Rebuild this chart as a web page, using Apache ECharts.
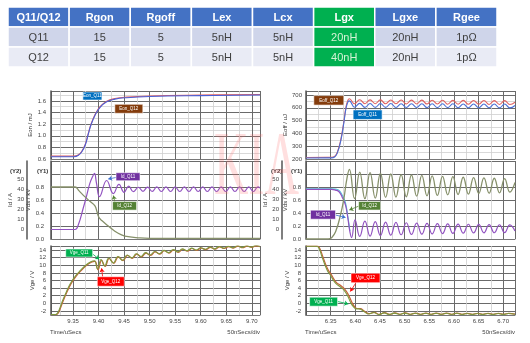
<!DOCTYPE html>
<html><head><meta charset="utf-8">
<script src="https://cdn.jsdelivr.net/npm/echarts@6/dist/echarts.min.js"></script>
<style>html,body{margin:0;padding:0;background:#fff}#c{width:530px;height:343px}</style>
</head><body><div id="c"></div>
<script>
// ---------- table ----------
const tableHeader = ['Q11/Q12','Rgon','Rgoff','Lex','Lcx','Lgx','Lgxe','Rgee'];
const tableRowQ11 = ['Q11','15','5','5nH','5nH','20nH','20nH','1pΩ'];
const tableRowQ12 = ['Q12','15','5','5nH','5nH','40nH','20nH','1pΩ'];

// ---------- turn-on (left) ----------
const eonQ11 = [[9.307,0.64],[9.352,0.64],[9.360,0.66],[9.367,0.72],[9.374,0.84],[9.380,1.03],[9.385,1.18],[9.393,1.35],[9.403,1.49],[9.416,1.585],[9.432,1.63],[9.455,1.655],[9.50,1.675],[9.60,1.69],[9.716,1.70]];
const eonQ12 = [[9.307,0.65],[9.352,0.65],[9.360,0.67],[9.367,0.73],[9.374,0.85],[9.380,1.04],[9.385,1.19],[9.393,1.36],[9.403,1.50],[9.416,1.595],[9.432,1.64],[9.455,1.665],[9.50,1.685],[9.60,1.70],[9.716,1.71]];
const vdsOn = [[9.307,0.80],[9.354,0.80],[9.362,0.74],[9.372,0.66],[9.383,0.58],[9.393,0.51],[9.397,0.42],[9.401,0.33],[9.407,0.28],[9.419,0.20],[9.432,0.12],[9.445,0.065],[9.458,0.035],[9.478,0.018],[9.50,0.01],[9.716,0.01]];
const idOn = [[9.307,0],[9.354,0],[9.360,4],[9.370,21],[9.377,34],[9.383,45.7],[9.3885,52.5],[9.392,55.5],[9.396,46],[9.402,32.5],[9.416,48.5],[9.429,35.5],[9.440,44.7],[9.450,36.8],[9.459,43],[9.468,37.4],[9.478,41.8],[9.487,37.8],[9.496,42.0],[9.505,37.7],[9.514,42.1],[9.523,37.6],[9.532,42.1],[9.541,37.6],[9.550,42.1],[9.559,37.6],[9.568,42.1],[9.577,37.6],[9.586,42.1],[9.595,37.6],[9.604,42.1],[9.613,37.6],[9.622,42.1],[9.631,37.6],[9.640,42.1],[9.649,37.6],[9.658,42.1],[9.667,37.6],[9.676,42.1],[9.685,37.6],[9.694,42.1],[9.703,37.6],[9.712,42.1],[9.716,41]];
const vgeOnQ11 = [[9.307,-2.9],[9.316,-2.9],[9.320,-2.5],[9.325,-1.0],[9.330,0.8],[9.337,3.0],[9.345,5.2],[9.355,7.2],[9.365,8.7],[9.375,10.0],[9.385,10.9],[9.392,11.2],[9.398,9.0],[9.405,11.5],[9.412,9.8],[9.420,11.9],[9.429,10.6],[9.438,12.3],[9.447,11.3],[9.456,12.7],[9.465,11.9],[9.474,13.0],[9.483,12.3],[9.492,13.3],[9.501,12.7],[9.510,13.6],[9.519,13.0],[9.528,13.9],[9.537,13.3],[9.546,14.1],[9.555,13.5],[9.564,14.3],[9.573,13.8],[9.582,14.5],[9.591,14.0],[9.600,14.6],[9.609,14.2],[9.618,14.8],[9.627,14.3],[9.636,14.9],[9.645,14.5],[9.654,15.0],[9.663,14.6],[9.672,15.1],[9.681,14.7],[9.690,15.1],[9.699,14.8],[9.708,15.2],[9.716,14.9]];
const vgeOnQ12 = [[9.307,-2.95],[9.317,-2.95],[9.321,-2.6],[9.326,-1.1],[9.331,0.7],[9.338,2.9],[9.346,5.1],[9.356,7.1],[9.366,8.6],[9.376,9.9],[9.386,10.8],[9.393,11.0],[9.399,8.8],[9.406,11.3],[9.413,9.7],[9.421,11.8],[9.430,10.5],[9.439,12.2],[9.448,11.2],[9.457,12.6],[9.466,11.8],[9.475,12.9],[9.484,12.2],[9.493,13.2],[9.502,12.6],[9.511,13.5],[9.520,12.9],[9.529,13.8],[9.538,13.2],[9.547,14.0],[9.556,13.4],[9.565,14.2],[9.574,13.7],[9.583,14.4],[9.592,13.9],[9.601,14.5],[9.610,14.1],[9.619,14.7],[9.628,14.2],[9.637,14.8],[9.646,14.4],[9.655,14.9],[9.664,14.5],[9.673,15.0],[9.682,14.6],[9.691,15.0],[9.700,14.7],[9.709,15.1],[9.716,14.9]];

// ---------- turn-off (right) ----------
const eoffQ11 = [[6.300,208],[6.352,209],[6.358,216],[6.363,242],[6.370,332],[6.377,488],[6.381,592],[6.385,645],[6.388,654],[6.3985,604],[6.409,634],[6.4195,603],[6.430,633],[6.4405,603],[6.451,633],[6.4615,603],[6.472,633],[6.4825,602],[6.493,632],[6.5035,602],[6.514,632],[6.5245,602],[6.535,632],[6.5455,601],[6.556,631],[6.5665,601],[6.577,631],[6.5875,601],[6.598,631],[6.6085,600],[6.619,630],[6.6295,600],[6.640,630],[6.6505,600],[6.661,630],[6.6715,600],[6.682,629],[6.6925,599],[6.703,629],[6.7135,599],[6.724,618]];
const eoffQ12 = [[6.300,212],[6.352,213],[6.358,220],[6.363,247],[6.370,340],[6.377,498],[6.381,604],[6.385,660],[6.388,670],[6.3985,632],[6.409,663],[6.4195,632],[6.430,662],[6.4405,632],[6.451,662],[6.4615,631],[6.472,661],[6.4825,631],[6.493,661],[6.5035,630],[6.514,660],[6.5245,630],[6.535,660],[6.5455,629],[6.556,659],[6.5665,629],[6.577,659],[6.5875,628],[6.598,658],[6.6085,628],[6.619,658],[6.6295,627],[6.640,657],[6.6505,627],[6.661,657],[6.6715,626],[6.682,656],[6.6925,626],[6.703,656],[6.7135,625],[6.724,643]];
const vdsOff = [[6.300,0],[6.345,0],[6.352,0.02],[6.360,0.11],[6.370,0.37],[6.377,0.63],[6.383,0.93],[6.388,1.07],[6.3985,0.62],[6.409,1.03],[6.4195,0.62],[6.430,1.02],[6.4405,0.63],[6.451,1.01],[6.4615,0.64],[6.472,1.00],[6.4825,0.645],[6.493,0.99],[6.5035,0.65],[6.514,0.985],[6.5245,0.66],[6.535,0.98],[6.5455,0.665],[6.556,0.97],[6.5665,0.67],[6.577,0.965],[6.5875,0.68],[6.598,0.96],[6.6085,0.685],[6.619,0.95],[6.6295,0.69],[6.640,0.945],[6.6505,0.70],[6.661,0.94],[6.6715,0.705],[6.682,0.935],[6.6925,0.71],[6.703,0.93],[6.7135,0.72],[6.724,0.87]];
const idOffQ11 = [[6.300,39.8],[6.352,39.8],[6.360,39.0],[6.367,37.4],[6.373,32.5],[6.380,24.3],[6.385,11],[6.389,-2],[6.3925,-8],[6.3995,9.5],[6.409,-6.8],[6.4195,8.2],[6.430,-6.5],[6.4405,7.8],[6.451,-6.0],[6.4615,7.4],[6.472,-5.6],[6.4825,7.0],[6.493,-5.2],[6.5035,6.7],[6.514,-4.9],[6.5245,6.4],[6.535,-4.6],[6.5455,6.1],[6.556,-4.3],[6.5665,5.8],[6.577,-4.0],[6.5875,5.6],[6.598,-3.8],[6.6085,5.4],[6.619,-3.6],[6.6295,5.2],[6.640,-3.4],[6.6505,5.0],[6.661,-3.3],[6.6715,4.8],[6.682,-3.2],[6.6925,4.7],[6.703,-3.1],[6.7135,4.6],[6.724,-1.5]];
const idOffQ12 = [[6.300,40.4],[6.352,40.4],[6.360,40.0],[6.367,38.8],[6.373,34.5],[6.380,26.5],[6.385,12.5],[6.389,-1.5]];
const vgeOffQ11 = [[6.300,15.0],[6.322,15.0],[6.327,14.3],[6.333,12.0],[6.343,8.7],[6.350,7.3],[6.360,5.3],[6.370,4.3],[6.377,3.5],[6.384,2.1],[6.3915,0.0],[6.397,-1.0],[6.401,-1.4],[6.410,-1.5],[6.417,-2.1],[6.427,-2.8],[6.4375,-2.4],[6.448,-2.95],[6.4585,-2.5],[6.469,-2.95],[6.4795,-2.55],[6.490,-2.9],[6.5005,-2.55],[6.511,-2.9],[6.5215,-2.6],[6.532,-2.9],[6.5425,-2.6],[6.553,-2.9],[6.5635,-2.6],[6.574,-2.9],[6.5845,-2.6],[6.595,-2.9],[6.6055,-2.6],[6.616,-2.9],[6.6265,-2.65],[6.637,-2.9],[6.6475,-2.65],[6.658,-2.9],[6.6685,-2.65],[6.679,-2.9],[6.6895,-2.65],[6.700,-2.9],[6.7105,-2.65],[6.724,-2.85]];
const vgeOffQ12 = [[6.300,15.05],[6.323,15.05],[6.328,14.4],[6.334,12.3],[6.344,9.0],[6.351,7.6],[6.361,5.6],[6.371,4.6],[6.378,3.8],[6.385,2.5],[6.393,0.3],[6.398,-0.8],[6.402,-1.3],[6.411,-1.4],[6.418,-2.0],[6.428,-2.7],[6.4385,-2.35],[6.449,-2.9],[6.4595,-2.45],[6.470,-2.9],[6.4805,-2.5],[6.491,-2.85],[6.5015,-2.5],[6.512,-2.85],[6.5225,-2.55],[6.533,-2.85],[6.5435,-2.55],[6.554,-2.85],[6.5645,-2.55],[6.575,-2.85],[6.5855,-2.55],[6.596,-2.85],[6.6065,-2.55],[6.617,-2.85],[6.6275,-2.6],[6.638,-2.85],[6.6485,-2.6],[6.659,-2.85],[6.6695,-2.6],[6.680,-2.85],[6.6905,-2.6],[6.701,-2.85],[6.7115,-2.6],[6.724,-2.8]];

// y-axis tick labels
const idTicks = [0,10,20,30,40,50];

// ---------- build ----------
const FONT = '"Liberation Sans", Arial, sans-serif';
const tableCells = [];
[tableHeader, tableRowQ11, tableRowQ12].forEach((row, r) => row.forEach((t, c) => tableCells.push({c, r, t})));

function timeAxis(g, min, max, show) {
  return {type:'value', gridIndex:g, min:min, max:max, splitNumber:8,
    axisLine:{show:true, onZero:false, lineStyle:{color:'#777', width:1}}, axisTick:{show:false},
    axisLabel:{show:show, fontSize:6, color:'#444', margin:3, fontFamily:FONT, showMinLabel:false, showMaxLabel:false, formatter:v=>v.toFixed(2)},
    splitLine:{show:true, lineStyle:{color:'#6a6a6a', width:1}},
    minorTick:{show:false, splitNumber:2}, minorSplitLine:{show:true, lineStyle:{color:'#cfcfcf', width:0.8}}};
}
function valAxis(g, o) {
  const a = {type:'value', gridIndex:g, nameLocation:'middle', nameRotate:90,
    nameTextStyle:{fontSize:6, color:'#333', fontFamily:FONT},
    axisLine:{show:true, lineStyle:{color:'#555', width:1.5}}, axisTick:{show:false},
    axisLabel:{fontSize:6, color:'#444', margin:5, fontFamily:FONT},
    splitLine:{show:true, lineStyle:{color:'#6a6a6a', width:1}}};
  return Object.assign(a, o, {axisLabel:Object.assign(a.axisLabel, o.axisLabel||{})});
}
function line(name, data, xi, yi, color, w, extra) {
  return Object.assign({type:'line', name:name, data:data, xAxisIndex:xi, yAxisIndex:yi, showSymbol:false, symbol:'none', smooth:0.45,
    lineStyle:{color:color, width:w}, itemStyle:{color:color}, silent:true, z:3}, extra||{});
}
function box(coord, text, color, w, h) {
  return {coord:coord, symbol:'rect', symbolSize:[w,h], itemStyle:{color:color, borderColor:'#fff', borderWidth:0.5},
    label:{show:true, position:'inside', formatter:text, color:'#fff', fontSize:4.5, fontFamily:FONT}};
}
function arrow(a, b, color) {
  return [{coord:a, lineStyle:{color:color, width:0.8, type:'solid'}}, {coord:b}];
}
const mpBase = {silent:true, animation:false};
const mlBase = {silent:true, animation:false, symbol:['none','arrow'], symbolSize:4, label:{show:false}};

const option = {
  animation:false,
  backgroundColor:'#fff',
  grid:[
    {left:8, top:7, width:489, height:60},
    {left:51, top:91, width:209, height:68},
    {left:51, top:161, width:209, height:78},
    {left:51, top:246, width:209, height:69},
    {left:306, top:91, width:209, height:68},
    {left:306, top:161, width:209, height:78},
    {left:306, top:246, width:209, height:69}
  ],
  xAxis:[
    {type:'category', gridIndex:0, data:tableHeader, show:false},
    timeAxis(1, 9.307, 9.716, false),
    timeAxis(2, 9.307, 9.716, false),
    timeAxis(3, 9.307, 9.716, true),
    timeAxis(4, 6.300, 6.724, false),
    timeAxis(5, 6.300, 6.724, false),
    timeAxis(6, 6.300, 6.724, true)
  ],
  yAxis:[
    {type:'category', gridIndex:0, data:['h','q11','q12'], inverse:true, show:false},
    valAxis(1, {min:0.6, max:1.77, interval:0.2, name:'Eon / mJ', nameGap:14,
      axisLabel:{showMaxLabel:false, formatter:v=>v.toFixed(1)},
      minorTick:{show:false, splitNumber:2}, minorSplitLine:{show:true, lineStyle:{color:'#cfcfcf', width:0.8}}}),
    valAxis(2, {min:0, max:1.2, interval:0.2, name:'Vds / kV', nameGap:15,
      axisLabel:{margin:7, formatter:v=>v>0.85?'':v.toFixed(1)}}),
    valAxis(2, {min:-9.4, max:67.8, name:'Id / A', nameGap:11, offset:24, position:'left',
      axisLabel:{margin:3, customValues:idTicks, formatter:v=>String(Math.round(v))},
      axisTick:{show:false, customValues:idTicks}, splitLine:{show:false}}),
    valAxis(3, {min:-3.05, max:15.05, splitNumber:9, name:'Vge / V', nameGap:13,
      axisLabel:{showMinLabel:false, showMaxLabel:false, formatter:v=>String(Math.round(v))}}),
    valAxis(4, {min:200, max:731, interval:100, name:'Eoff / uJ', nameGap:17,
      axisLabel:{margin:4, showMaxLabel:false},
      minorTick:{show:false, splitNumber:2}, minorSplitLine:{show:true, lineStyle:{color:'#cfcfcf', width:0.8}}}),
    valAxis(5, {min:0, max:1.2, interval:0.2, name:'Vds / kV', nameGap:15,
      axisLabel:{margin:5, formatter:v=>v>0.85?'':v.toFixed(1)}}),
    valAxis(5, {min:-9.4, max:67.8, name:'Id / A', nameGap:10, offset:24, position:'left',
      axisLabel:{margin:3, customValues:idTicks, formatter:v=>String(Math.round(v))},
      axisTick:{show:false, customValues:idTicks}, splitLine:{show:false}}),
    valAxis(6, {min:-3.05, max:15.05, splitNumber:9, name:'Vge / V', nameGap:13,
      axisLabel:{showMinLabel:false, showMaxLabel:false, formatter:v=>String(Math.round(v))}})
  ],
  series:[
    {type:'custom', xAxisIndex:0, yAxisIndex:0, silent:true,
      data:tableCells.map(d=>[d.c, d.r]),
      renderItem:function(params, api){
        const cell = tableCells[params.dataIndex];
        const p = api.coord([api.value(0), api.value(1)]);
        const s = api.size([1,1]);
        let fill = cell.r===0 ? '#4472C4' : (cell.r===1 ? '#CFD5EA' : '#E9EBF5');
        let tc = cell.r===0 ? '#ffffff' : '#404040';
        if (cell.c===5) { fill = '#00B050'; if (cell.r>0) tc = '#d4f2d4'; }
        return {type:'group', children:[
          {type:'rect', shape:{x:p[0]-s[0]/2, y:p[1]-s[1]/2, width:s[0], height:s[1]}, style:{fill:fill, stroke:'#ffffff', lineWidth:1.5}},
          {type:'text', style:{text:cell.t, x:p[0], y:p[1]+0.5, align:'center', verticalAlign:'middle', fill:tc,
            font:(cell.r===0?'bold ':'')+'11px '+FONT}}
        ]};
      }},
    // left turn-on
    line('Eon_Q12', eonQ12, 1, 1, '#e06060', 1.1),
    line('Eon_Q11', eonQ11, 1, 1, '#4a5fd6', 1.1, {
      markPoint:Object.assign({data:[box([9.388,1.684],'Eon_Q11','#0070C0',19,8), box([9.4593,1.464],'Eon_Q12','#843C0C',28,9)]}, mpBase)}),
    line('Id_Q11', idOn, 2, 3, '#9152c0', 1.2),
    line('Vds_Q12', vdsOn, 2, 2, '#86906a', 1.3, {
      markPoint:Object.assign({data:[box([9.4577,0.958],'Id_Q11','#7030A0',24,8), box([9.451,0.51],'Id_Q12','#548235',24,8.5)]}, mpBase),
      markLine:Object.assign({data:[arrow([9.434,0.946],[9.419,0.923],'#3a6fd0'), arrow([9.432,0.569],[9.429,0.669],'#548235')]}, mlBase)}),
    line('Vge_Q12', vgeOnQ12, 3, 4, '#c8603a', 1.2),
    line('Vge_Q11', vgeOnQ11, 3, 4, '#7d9a3e', 1.1, {
      markPoint:Object.assign({data:[box([9.3622,13.21],'Vge_Q11','#00B050',27,8), box([9.424,5.74],'Vge_Q12','#FF0000',27,9.5)]}, mpBase),
      markLine:Object.assign({data:[arrow([9.3885,12.95],[9.4015,11.56],'#00B050'), arrow([9.408,7.0],[9.406,9.2],'#FF0000')]}, mlBase)}),
    // right turn-off
    line('Eoff_Q12', eoffQ12, 4, 5, '#e06060', 1.1),
    line('Eoff_Q11', eoffQ11, 4, 5, '#4a6fd6', 1.1, {
      markPoint:Object.assign({data:[box([6.3463,658],'Eoff_Q12','#843C0C',30,9.5), box([6.425,546],'Eoff_Q11','#0070C0',29,9.5)]}, mpBase)}),
    line('Id_Q12c', idOffQ12, 5, 7, '#4cc4d8', 1.1),
    line('Id_Q11', idOffQ11, 5, 7, '#9152c0', 1.2),
    line('Vds_Q12', vdsOff, 5, 6, '#86906a', 1.3, {
      markPoint:Object.assign({data:[box([6.429,0.511],'Id_Q12','#548235',22,8.5), box([6.3345,0.374],'Id_Q11','#7030A0',25,9)]}, mpBase),
      markLine:Object.assign({data:[arrow([6.4077,0.508],[6.3879,0.446],'#548235'), arrow([6.3599,0.369],[6.3802,0.331],'#3a6fd0')]}, mlBase)}),
    line('Vge_Q12', vgeOffQ12, 6, 8, '#c8603a', 1.2),
    line('Vge_Q11', vgeOffQ11, 6, 8, '#7d9a3e', 1.1, {
      markPoint:Object.assign({data:[box([6.4207,6.66],'Vge_Q12','#FF0000',29,9.5), box([6.3357,0.44],'Vge_Q11','#00B050',28,9)]}, mpBase),
      markLine:Object.assign({data:[arrow([6.401,5.35],[6.3899,3.1],'#FF0000'), arrow([6.3645,0.49],[6.3858,-0.16],'#00B050')]}, mlBase)})
  ],
  graphic:[
    {type:'text', left:10, top:168, style:{text:'(Y2)', font:'bold 6px '+FONT, fill:'#333'}},
    {type:'text', left:37, top:168, style:{text:'(Y1)', font:'bold 6px '+FONT, fill:'#333'}},
    {type:'text', left:271, top:168, style:{text:'(Y2)', font:'bold 6px '+FONT, fill:'#333'}},
    {type:'text', left:291, top:168, style:{text:'(Y1)', font:'bold 6px '+FONT, fill:'#333'}},
    {type:'text', left:50, top:329, style:{text:'Time/uSecs', font:'6px '+FONT, fill:'#444'}},
    {type:'text', right:270, top:329, style:{text:'50nSecs/div', font:'6px '+FONT, fill:'#444'}},
    {type:'text', left:305, top:329, style:{text:'Time/uSecs', font:'6px '+FONT, fill:'#444'}},
    {type:'text', right:15, top:329, style:{text:'50nSecs/div', font:'6px '+FONT, fill:'#444'}},
    {type:'text', x:214, y:124, scaleX:0.52, z:100, silent:true,
      style:{text:'KIA', font:'92px "Liberation Serif", "DejaVu Serif", serif', fill:'rgba(255,110,110,0.22)'}}
  ]
};
const chart = echarts.init(document.getElementById('c'), null, {renderer:'canvas'});
chart.setOption(option);
</script></body></html>
